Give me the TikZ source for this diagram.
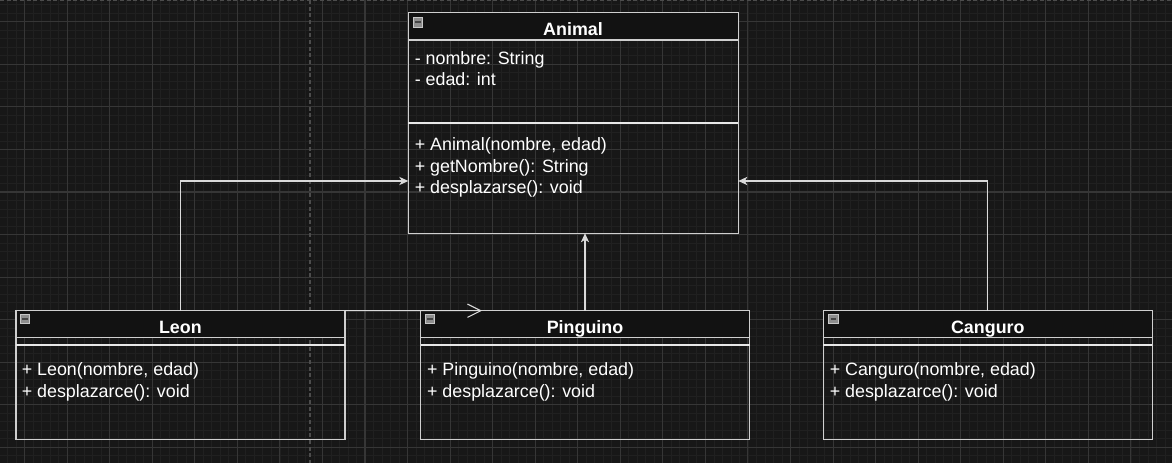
\documentclass[tikz,border=0pt]{standalone}
\usepackage{fontspec}
\setmainfont{Liberation Sans}
\usetikzlibrary{arrows.meta}
\definecolor{canvas}{HTML}{171717}
\definecolor{gridminor}{HTML}{202020}
\definecolor{gridmajor}{HTML}{363636}
\definecolor{pageline}{HTML}{4C4C4C}
\definecolor{boxline}{HTML}{CFCFCF}
\definecolor{sepline}{HTML}{E8E8E8}
\definecolor{headfill}{HTML}{121212}
\definecolor{edgeline}{HTML}{DADADA}
\definecolor{foldfill}{HTML}{8E8E8E}
\definecolor{foldline}{HTML}{C8C8C8}
\definecolor{folddash}{HTML}{454545}
\newcommand{\umltext}{\fontsize{13.4}{16}\selectfont}
\tikzset{
  classbox/.style={draw=boxline,rectangle,line width=1.1pt,inner sep=0pt,outer sep=0pt},
  headbox/.style={classbox,fill=headfill},
  classname/.style={anchor=base,inner sep=0pt,text=white,font=\umltext\bfseries},
  member/.style={anchor=base west,inner sep=0pt,text=white,font=\umltext},
  foldbox/.style={rectangle,draw=foldline,fill=foldfill,line width=0.6pt,minimum size=7pt,inner sep=0pt,
    path picture={\draw[folddash,line width=1.4pt] ([xshift=1.5pt]path picture bounding box.west) -- ([xshift=-1.5pt]path picture bounding box.east);}},
  inherit/.style={draw=edgeline,line width=0.8pt,-{Stealth[length=6.8pt,width=6.2pt,inset=2pt]}},
  openedge/.style={draw=edgeline,line width=0.8pt,-{Straight Barb[length=10pt,width=10pt]}}
}
\begin{document}
\begin{tikzpicture}[x=0.75pt,y=-0.75pt]
		%% canvas
  \useasboundingbox[fill=canvas] (0,0) rectangle (1172,463);
  \foreach \k in {-2,...,135} \draw[gridminor,line width=0.6pt] ({24.6+8.51*\k},0) -- ++(0,463);
  \foreach \k in {-2,...,52} \draw[gridminor,line width=0.6pt] (0,{21.8+8.51*\k}) -- ++(1172,0);
  \foreach \k in {0,...,27} \draw[gridmajor,line width=0.8pt] ({24.6+42.55*\k},0) -- ++(0,463);
  \foreach \k in {0,...,10} \draw[gridmajor,line width=0.8pt] (0,{21.8+42.55*\k}) -- ++(1172,0);
  \draw[pageline,line width=0.8pt,dash pattern=on 3pt off 2pt] (310,0) -- (310,463);
  \draw[pageline,line width=0.8pt,dash pattern=on 3pt off 2pt] (0,0.8) -- (1172,0.8);
		%% classes
  \node (Animal) at (573.3,122.8) [classbox,minimum width=247.5pt,minimum height=165.75pt] {};
  \node (AnimalHead) at (573.3,26.15) [headbox,minimum width=247.5pt,minimum height=20.8pt] {};
  \node (AnimalFold) at (418,22.3) [foldbox] {};
  \node (AnimalName) at (573,35.7) [classname] {Animal};
  \node (AnimalNombre) at (414.5,65) [member] {- nombre: String};
  \node (AnimalEdad) at (414.5,86) [member] {- edad: int};
  \draw[sepline,line width=1.1pt] (Animal.west |- 0,123) -- (Animal.east |- 0,123);
  \node (AnimalCtor) at (414.5,151) [member] {+ Animal(nombre, edad)};
  \node (AnimalGet) at (414.5,172.2) [member] {+ getNombre(): String};
  \node (AnimalMove) at (414.5,193.4) [member] {+ desplazarse(): void};
  %
  \node (Leon) at (180.35,375) [classbox,minimum width=246.75pt,minimum height=96.45pt] {};
  \node (LeonHead) at (180.35,324.2) [headbox,minimum width=246.75pt,minimum height=20.25pt] {};
  \node (LeonFold) at (25,319.2) [foldbox] {};
  \node (LeonName) at (180.35,334) [classname] {Leon};
  \draw[sepline,line width=1.1pt] (Leon.west |- 0,345) -- (Leon.east |- 0,345);
  \node (LeonCtor) at (21.5,376) [member] {+ Leon(nombre, edad)};
  \node (LeonMove) at (21.5,397.3) [member] {+ desplazarce(): void};
  %
  \node (Pinguino) at (585,375) [classbox,minimum width=246.75pt,minimum height=96.45pt] {};
  \node (PinguinoHead) at (585,324.2) [headbox,minimum width=246.75pt,minimum height=20.25pt] {};
  \node (PinguinoFold) at (430,319.2) [foldbox] {};
  \node (PinguinoName) at (585,334) [classname] {Pinguino};
  \draw[sepline,line width=1.1pt] (Pinguino.west |- 0,345) -- (Pinguino.east |- 0,345);
  \node (PinguinoCtor) at (426.8,376) [member] {+ Pinguino(nombre, edad)};
  \node (PinguinoMove) at (426.8,397.3) [member] {+ desplazarce(): void};
  %
  \node (Canguro) at (987.8,375) [classbox,minimum width=246.75pt,minimum height=96.45pt] {};
  \node (CanguroHead) at (987.8,324.2) [headbox,minimum width=246.75pt,minimum height=20.25pt] {};
  \node (CanguroFold) at (833.3,319.2) [foldbox] {};
  \node (CanguroName) at (987.8,334) [classname] {Canguro};
  \draw[sepline,line width=1.1pt] (Canguro.west |- 0,345) -- (Canguro.east |- 0,345);
  \node (CanguroCtor) at (829.5,376) [member] {+ Canguro(nombre, edad)};
  \node (CanguroMove) at (829.5,397.3) [member] {+ desplazarce(): void};
		%% edges
  \coordinate (LeonTip) at (482,310.7);
  \draw [inherit] (Leon.north) |- ([yshift=-43.65pt]Animal.west);
  \draw [inherit] (Pinguino.north) -- (Pinguino.north |- Animal.south);
  \draw [inherit] (Canguro.north) |- ([yshift=-43.65pt]Animal.east);
  \draw [openedge] (Leon.north east) -- (LeonTip);
		%
	\end{tikzpicture}
\end{document}
